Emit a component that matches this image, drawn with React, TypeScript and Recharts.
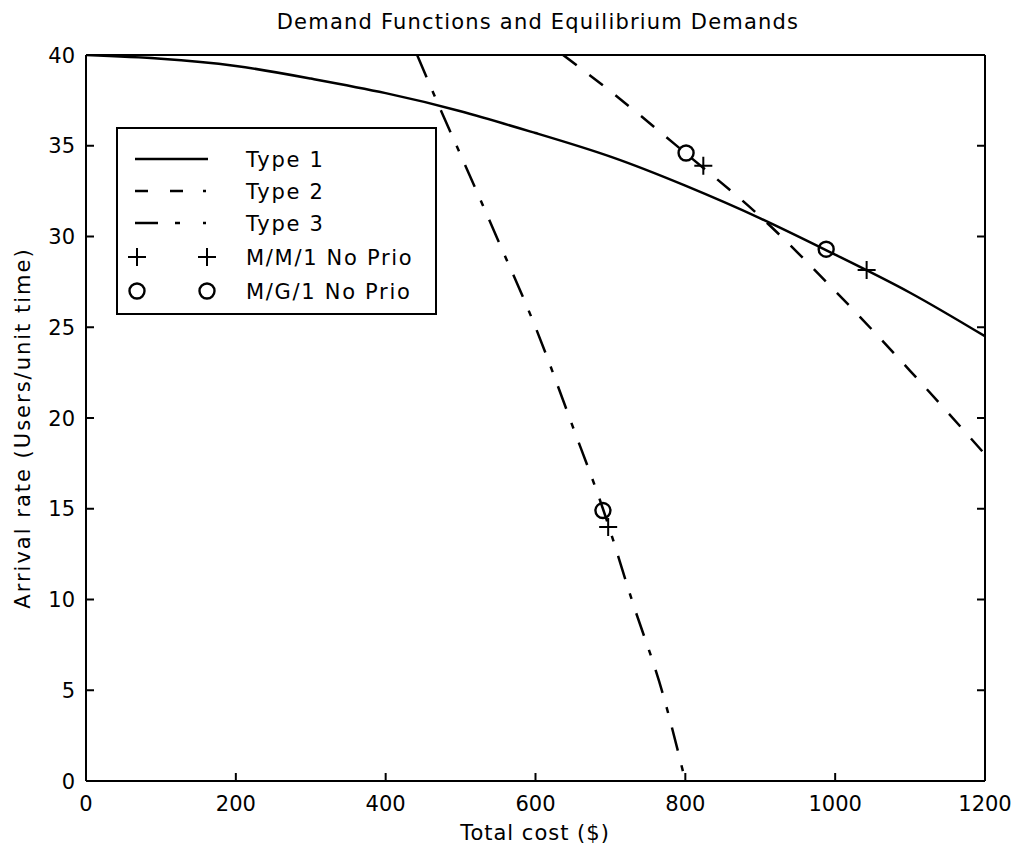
import React from "react";
import { ComposedChart, Line, Scatter, XAxis, YAxis, Legend } from "recharts";

const FONT = "DejaVu Sans";

const xTicks = [0, 200, 400, 600, 800, 1000, 1200];
const yTicks = [0, 5, 10, 15, 20, 25, 30, 35, 40];

// Type 1 (solid)
const type1Cost = [0, 100, 200, 300, 400, 500, 600, 700, 800, 900, 1000, 1100, 1200];
const type1Rate = [40, 39.8, 39.4, 38.7, 37.9, 36.9, 35.7, 34.4, 32.8, 31.0, 29.0, 26.9, 24.5];

// Type 2 (long dashes, flatter curve)
const type2Cost = [637, 700, 800, 900, 1000, 1100, 1200];
const type2Rate = [40, 38.0, 34.6, 31.1, 27.0, 22.6, 18];

// Type 3 (dash-dot, steep curve)
const type3Cost = [442, 470, 500, 550, 600, 650, 690, 730, 770, 800];
const type3Rate = [40, 37.3, 34.5, 29.8, 25, 19.5, 15, 9.8, 4.8, 0];

// equilibrium demands
const mm1Cost = [697, 824, 1042];
const mm1Rate = [14, 33.9, 28.15];
const mg1Cost = [690, 801, 988];
const mg1Rate = [14.9, 34.6, 29.3];

const toPoints = (xs: number[], ys: number[]) => xs.map((x, i) => ({ x, y: ys[i] }));

const type1 = toPoints(type1Cost, type1Rate);
const type2 = toPoints(type2Cost, type2Rate);
const type3 = toPoints(type3Cost, type3Rate);
const mm1 = toPoints(mm1Cost, mm1Rate);
const mg1 = toPoints(mg1Cost, mg1Rate);

const Plus = (p: any) => (
  <path
    d={`M${p.cx - 9},${p.cy}H${p.cx + 9}M${p.cx},${p.cy - 9}V${p.cy + 9}`}
    stroke="#000"
    strokeWidth={2}
    fill="none"
  />
);

const Ring = (p: any) => (
  <circle cx={p.cx} cy={p.cy} r={7.5} fill="none" stroke="#000" strokeWidth={2.4} />
);

const legendRows = [
  { name: "Type 1", dash: undefined as string | undefined },
  { name: "Type 2", dash: "13 22 13 20 3 100" },
  { name: "Type 3", dash: "23 17 5 23 3 100" },
];

function LegendBox() {
  const rowY = [32, 64, 96, 130, 164];
  const textStyle = { fontFamily: FONT, fontSize: 21, letterSpacing: 1.7 };
  return (
    <svg width={321} height={188} style={{ display: "block" }}>
      <rect x={1} y={1} width={319} height={186} fill="#fff" stroke="#000" strokeWidth={2} />
      {legendRows.map((r, i) => (
        <g key={r.name}>
          <line
            x1={19}
            x2={92}
            y1={rowY[i]}
            y2={rowY[i]}
            stroke="#000"
            strokeWidth={2.5}
            strokeDasharray={r.dash}
          />
          <text x={130} y={rowY[i] + 7.5} {...textStyle}>
            {r.name}
          </text>
        </g>
      ))}
      <Plus cx={21} cy={rowY[3]} />
      <Plus cx={91} cy={rowY[3]} />
      <text x={130} y={rowY[3] + 7.5} {...textStyle}>
        M/M/1 No Prio
      </text>
      <Ring cx={21} cy={rowY[4]} />
      <Ring cx={91} cy={rowY[4]} />
      <text x={130} y={rowY[4] + 7.5} {...textStyle}>
        M/G/1 No Prio
      </text>
    </svg>
  );
}

// MATLAB-style ticks: short marks pointing into the plot box
const TICK = 8;
const GAP_BOTTOM = 30;
const GAP_LEFT = 11;

const BottomTick = (p: any) => (
  <g>
    <line x1={p.x} x2={p.x} y1={p.y - GAP_BOTTOM} y2={p.y - GAP_BOTTOM - TICK} stroke="#000" strokeWidth={2} />
    <text x={p.x} y={p.y} textAnchor="middle" fill="#000" fontSize={21} fontFamily={FONT}>
      {p.payload.value}
    </text>
  </g>
);

const TopTick = (p: any) => (
  <line x1={p.x} x2={p.x} y1={p.y} y2={p.y + TICK} stroke="#000" strokeWidth={2} />
);

const LeftTick = (p: any) => (
  <g>
    <line x1={p.x + GAP_LEFT} x2={p.x + GAP_LEFT + TICK} y1={p.y} y2={p.y} stroke="#000" strokeWidth={2} />
    <text x={p.x} y={p.y + 7.6} textAnchor="end" fill="#000" fontSize={21} fontFamily={FONT}>
      {p.payload.value}
    </text>
  </g>
);

const RightTick = (p: any) => (
  <line x1={p.x} x2={p.x - TICK} y1={p.y} y2={p.y} stroke="#000" strokeWidth={2} />
);

const axisLine = { stroke: "#000", strokeWidth: 2 };

export default function App() {
  return (
    <div style={{ position: "absolute", left: 0, top: 0, width: 1016, height: 850, background: "#fff" }}>
      <ComposedChart width={1016} height={850} margin={{ top: 25, right: 21, bottom: 29, left: 26 }}>
        <XAxis
          dataKey="x"
          type="number"
          domain={[0, 1200]}
          ticks={xTicks}
          interval={0}
          height={40}
          allowDataOverflow
          axisLine={axisLine}
          tickLine={false}
          tickSize={0}
          tickMargin={GAP_BOTTOM}
          tick={BottomTick}
        />
        <XAxis
          xAxisId="top"
          orientation="top"
          type="number"
          domain={[0, 1200]}
          ticks={xTicks}
          interval={0}
          height={30}
          allowDataOverflow
          axisLine={axisLine}
          tickLine={false}
          tickSize={0}
          tickMargin={0}
          tick={TopTick}
        />
        <YAxis
          dataKey="y"
          type="number"
          domain={[0, 40]}
          ticks={yTicks}
          interval={0}
          width={60}
          allowDataOverflow
          axisLine={axisLine}
          tickLine={false}
          tickSize={0}
          tickMargin={GAP_LEFT}
          tick={LeftTick}
        />
        <YAxis
          yAxisId="right"
          orientation="right"
          type="number"
          domain={[0, 40]}
          ticks={yTicks}
          interval={0}
          width={10}
          allowDataOverflow
          axisLine={axisLine}
          tickLine={false}
          tickSize={0}
          tickMargin={0}
          tick={RightTick}
        />
        <Line
          data={type1}
          dataKey="y"
          type="natural"
          stroke="#000"
          strokeWidth={2.5}
          dot={false}
          activeDot={false}
          isAnimationActive={false}
        />
        <Line
          data={type2}
          dataKey="y"
          type="monotone"
          stroke="#000"
          strokeWidth={2.5}
          strokeDasharray="17 16"
          dot={false}
          activeDot={false}
          isAnimationActive={false}
        />
        <Line
          data={type3}
          dataKey="y"
          type="monotone"
          stroke="#000"
          strokeWidth={2.5}
          strokeDasharray="24 15 6 15"
          dot={false}
          activeDot={false}
          isAnimationActive={false}
        />
        <Scatter data={mm1} shape={Plus} isAnimationActive={false} />
        <Scatter data={mg1} shape={Ring} isAnimationActive={false} />
        <Legend
          layout="vertical"
          align="center"
          verticalAlign="middle"
          wrapperStyle={{ left: 116, top: 127, width: 321, height: 188 }}
          content={() => <LegendBox />}
        />
      </ComposedChart>
      <svg
        width={1016}
        height={850}
        style={{ position: "absolute", left: 0, top: 0, pointerEvents: "none" }}
      >
        <text x={538} y={28.5} textAnchor="middle" fontFamily={FONT} fontSize={21} letterSpacing={1.2}>
          Demand Functions and Equilibrium Demands
        </text>
        <text x={535} y={839.5} textAnchor="middle" fontFamily={FONT} fontSize={21} letterSpacing={1}>
          Total cost ($)
        </text>
        <text
          x={29.5}
          y={428}
          textAnchor="middle"
          fontFamily={FONT}
          fontSize={21}
          letterSpacing={2}
          transform="rotate(-90 29.5 428)"
        >
          Arrival rate (Users/unit time)
        </text>
      </svg>
    </div>
  );
}
